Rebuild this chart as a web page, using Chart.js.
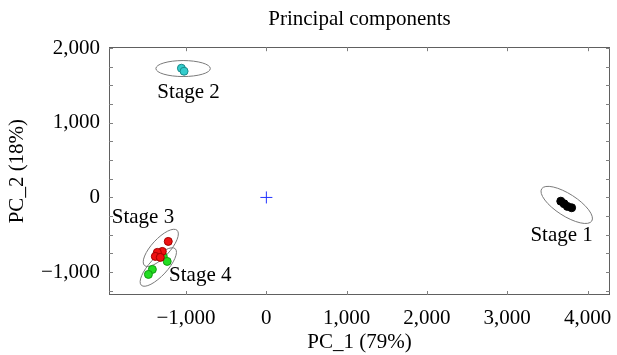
<!DOCTYPE html>
<html>
<head>
<meta charset="utf-8">
<script src="https://cdn.jsdelivr.net/npm/chart.js@4/dist/chart.umd.min.js"></script>
<style>
  html, body { margin: 0; padding: 0; background: #fff; }
</style>
</head>
<body>
<canvas id="pca" width="617" height="355"></canvas>
<script>
// scores
const stage1Pc1 = [3667, 3708, 3749, 3802];
const stage1Pc2 = [-50, -84, -120, -138];
const stage2Pc1 = [-1058, -1025];
const stage2Pc2 = [1731, 1691];
const stage3Pc1 = [-1222, -1296, -1358, -1383, -1321];
const stage3Pc2 = [-589, -723, -736, -790, -803];
const stage4Pc1 = [-1284, -1235, -1420, -1469];
const stage4Pc2 = [-790, -857, -964, -1031];
const originPc1 = [0];
const originPc2 = [0];

const xTickValues = [-1000, 0, 1000, 2000, 3000, 4000];
const yTickValues = [-1000, 0, 1000, 2000];
const yMinorValues = [-1250, -750, -500, -250, 250, 500, 750, 1250, 1500, 1750];

const stageNames = ['Stage 1', 'Stage 2', 'Stage 3', 'Stage 4'];
const labelPc1 = [3677, -969, -1537, -823];
const labelPc2 = [-589, 1339, -348, -1124];

// group ellipses: centre, end of first axis, end of second axis (data units)
const ellipseCentre = [[3741, -100], [-1037, 1727], [-1315, -676], [-1346, -932]];
const ellipseAxisA = [[4053, -316], [-698, 1727], [-1112, -440], [-1135, -687]];
const ellipseAxisB = [[3814, 24], [-1037, 1834], [-1233, -758], [-1264, -1013]];

const FONT = 'Liberation Serif, Times New Roman, serif';

function toPoints(xs, ys) {
    return xs.map((v, i) => ({x: v, y: ys[i]}));
}

function fmt(v) {
    const s = Math.abs(v).toLocaleString('en-US');
    return v < 0 ? '\u2212' + s : s;
}

const framePlugin = {
    id: 'frame',
    beforeDatasetsDraw(chart) {
        const ctx = chart.ctx;
        const a = chart.chartArea;
        const x = chart.scales.x, y = chart.scales.y;
        ctx.save();

        // ellipses
        ctx.strokeStyle = '#7a7a7a';
        ctx.lineWidth = 1;
        for (let i = 0; i < ellipseCentre.length; i++) {
            const cx = x.getPixelForValue(ellipseCentre[i][0]);
            const cy = y.getPixelForValue(ellipseCentre[i][1]);
            const ax = x.getPixelForValue(ellipseAxisA[i][0]) - cx;
            const ay = y.getPixelForValue(ellipseAxisA[i][1]) - cy;
            const bx = x.getPixelForValue(ellipseAxisB[i][0]) - cx;
            const by = y.getPixelForValue(ellipseAxisB[i][1]) - cy;
            ctx.beginPath();
            ctx.ellipse(cx, cy, Math.hypot(ax, ay), Math.hypot(bx, by), Math.atan2(ay, ax), 0, Math.PI * 2);
            ctx.stroke();
        }

        // frame
        ctx.strokeStyle = '#606060';
        ctx.strokeRect(Math.round(a.left) + 0.5, Math.round(a.top) + 0.5,
            Math.round(a.width) - 1, Math.round(a.height) - 1);

        // inward ticks
        ctx.strokeStyle = '#808080';
        ctx.beginPath();
        xTickValues.forEach(v => {
            const px = Math.round(x.getPixelForValue(v)) + 0.5;
            ctx.moveTo(px, a.bottom); ctx.lineTo(px, a.bottom - 4);
            ctx.moveTo(px, a.top); ctx.lineTo(px, a.top + 4);
        });
        yTickValues.concat(yMinorValues).forEach(v => {
            const py = Math.round(y.getPixelForValue(v)) + 0.5;
            ctx.moveTo(a.left, py); ctx.lineTo(a.left + 4, py);
            ctx.moveTo(a.right, py); ctx.lineTo(a.right - 4, py);
        });
        ctx.stroke();
        ctx.restore();
    },
    afterDatasetsDraw(chart) {
        const ctx = chart.ctx;
        const x = chart.scales.x, y = chart.scales.y;
        ctx.save();
        ctx.font = '21px ' + FONT;
        ctx.fillStyle = '#000';
        ctx.textAlign = 'center';
        ctx.textBaseline = 'alphabetic';
        stageNames.forEach((name, i) => {
            ctx.fillText(name, x.getPixelForValue(labelPc1[i]), y.getPixelForValue(labelPc2[i]));
        });
        ctx.restore();
    }
};

const pointStyleFor = (fill, edge) => ({
    pointRadius: 4,
    pointBackgroundColor: fill,
    pointBorderColor: edge,
    pointBorderWidth: 1
});

new Chart(document.getElementById('pca'), {
    type: 'scatter',
    data: {
        datasets: [
            Object.assign({label: 'Stage 1', data: toPoints(stage1Pc1, stage1Pc2)}, pointStyleFor('#000000', '#000000')),
            Object.assign({label: 'Stage 2', data: toPoints(stage2Pc1, stage2Pc2)}, pointStyleFor('#33cccc', '#1a8a8a')),
            Object.assign({label: 'Stage 3', data: toPoints(stage3Pc1, stage3Pc2)}, pointStyleFor('#ee1111', '#a00000')),
            Object.assign({label: 'Stage 4', data: toPoints(stage4Pc1, stage4Pc2)}, pointStyleFor('#22dd22', '#129912')),
            {
                label: 'origin',
                data: toPoints(originPc1, originPc2),
                pointStyle: 'cross',
                pointRadius: 6,
                pointBorderColor: '#2233ff',
                pointBorderWidth: 1
            }
        ]
    },
    options: {
        responsive: false,
        animation: false,
        layout: {padding: {left: 0, right: 2, top: 0, bottom: 0}},
        plugins: {
            legend: {display: false},
            tooltip: {enabled: false},
            title: {
                display: true,
                text: 'Principal components',
                fullSize: false,
                color: '#000',
                font: {family: FONT, size: 21, weight: 'normal'},
                padding: {top: 7, bottom: 15}
            }
        },
        scales: {
            x: {
                type: 'linear',
                min: -1960,
                max: 4280,
                grid: {display: false, drawTicks: false},
                border: {display: false},
                afterBuildTicks: s => { s.ticks = xTickValues.map(v => ({value: v})); },
                afterFit: s => { s.height = 60; s.paddingLeft = 0; s.paddingRight = 0; },
                ticks: {
                    autoSkip: false,
                    maxRotation: 0,
                    padding: 11,
                    color: '#000',
                    font: {family: FONT, size: 21},
                    callback: v => fmt(v)
                },
                title: {
                    display: true,
                    text: 'PC_1 (79%)',
                    color: '#000',
                    font: {family: FONT, size: 21},
                    padding: {top: 0, bottom: 0}
                }
            },
            y: {
                type: 'linear',
                min: -1307,
                max: 2013,
                grid: {display: false, drawTicks: false},
                border: {display: false},
                afterBuildTicks: s => { s.ticks = yTickValues.map(v => ({value: v})); },
                afterFit: s => { s.width = 109; s.paddingTop = 0; s.paddingBottom = 0; },
                ticks: {
                    autoSkip: false,
                    padding: 9,
                    color: '#000',
                    font: {family: FONT, size: 21},
                    callback: v => fmt(v)
                },
                title: {
                    display: true,
                    text: 'PC_2 (18%)',
                    color: '#000',
                    font: {family: FONT, size: 21},
                    padding: {top: 5, bottom: 0}
                }
            }
        }
    },
    plugins: [framePlugin]
});
</script>
</body>
</html>
